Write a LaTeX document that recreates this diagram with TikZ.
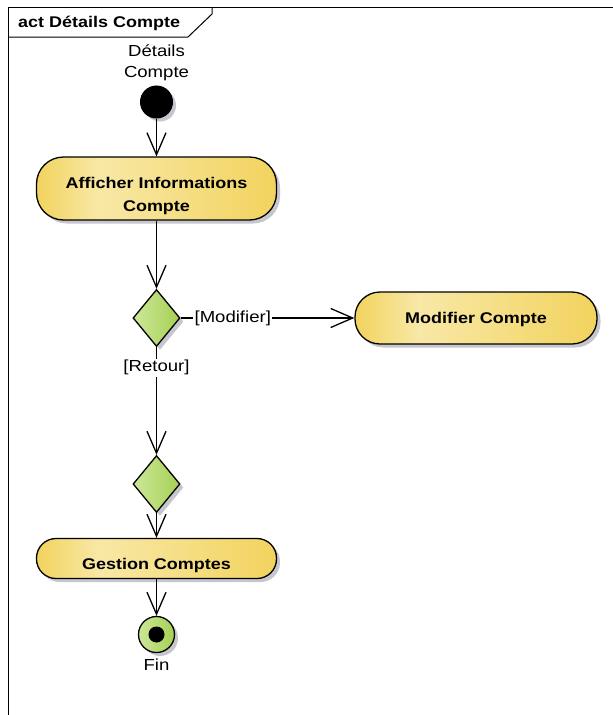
\documentclass[tikz,border=0pt]{standalone}
\usepackage{fontspec}
\setmainfont{Liberation Sans}[FakeStretch=1.16]
\usetikzlibrary{arrows.meta,shapes.geometric,shadows}

\definecolor{actA}{HTML}{F2D35E}
\definecolor{actB}{HTML}{F8E8A6}
\definecolor{decA}{HTML}{A5D053}
\definecolor{decB}{HTML}{CDE79A}
\definecolor{shadowgray}{HTML}{C6C6CE}

% action fill: warm yellow, lighter towards the left third
\pgfdeclarehorizontalshading{actfill}{100bp}{color(0bp)=(actA); color(25bp)=(actA); color(38bp)=(actB); color(75bp)=(actA); color(100bp)=(actA)}

\newcommand\txtfont{\fontsize{16}{21}\selectfont}
\newcommand\actfont{\fontsize{15.5}{22.5}\selectfont\bfseries}
% lowers a line of text inside its box, keeping the box size fixed
\newcommand\lowered[2]{\raisebox{-#1}[11pt][3pt]{#2}}

\tikzset{
  frame/.style={draw=black, line width=1pt},
  umlshadow/.style={drop shadow={shadow xshift=3.5pt, shadow yshift=-3.5pt, fill=shadowgray, draw=none, opacity=1}},
  act/.style={rectangle, draw=black, line width=1.3pt, shading=actfill, umlshadow,
              font=\actfont, align=center, inner sep=2pt},
  decision/.style={diamond, draw=black, line width=1.3pt, left color=decB, right color=decA,
                   umlshadow, minimum width=47pt, minimum height=57pt, inner sep=0pt},
  initial/.style={circle, fill=black, draw=black, line width=1pt, minimum size=32pt,
                  inner sep=0pt, umlshadow},
  final/.style={circle, draw=black, line width=1.3pt, left color=decB, right color=decA,
                minimum size=36pt, inner sep=0pt, umlshadow},
  flow/.style={draw=black, line width=1.3pt,
               -{Straight Barb[length=22pt, width=19pt, line width=1.3pt]}},
  guard/.style={fill=white, inner sep=1.5pt, font=\txtfont},
  plain/.style={font=\txtfont, align=center, inner sep=0pt},
}

\begin{document}
\begin{tikzpicture}[x=1pt, y=-1pt]
\useasboundingbox (0,0) rectangle (613,715);

% diagram frame and its name tab
\draw[frame] (613,7) -- (8,7) -- (8,715);
\draw[frame] (8,37) -- (188,37) -- (212,14) -- (212,7);
\node[anchor=west, font=\actfont, inner sep=0pt] (title) at (18,23) {act Détails Compte};

% nodes
\node[plain] (startlbl) at (156.5,62.5) {Détails\\Compte};
\node[initial] (start) at (156.5,102) {};
\node[act, minimum width=240pt, minimum height=63pt, rounded corners=27pt] (afficher) at (156.5,188.5)
  {\lowered{7.5pt}{Afficher Informations}\\\lowered{7.5pt}{Compte}};
\node[decision] (d1) at (156.5,318) {};
\node[act, minimum width=242pt, minimum height=52pt, rounded corners=25pt] (modifier) at (476,318)
  {\lowered{1pt}{Modifier Compte}};
\node[decision] (d2) at (156.5,484) {};
\node[act, minimum width=240pt, minimum height=40pt, rounded corners=19.5pt] (gestion) at (156.5,558.5)
  {\lowered{6.5pt}{Gestion Comptes}};
\node[final] (fin) at (156.5,634.5) {};
\fill[black] (fin.center) circle (8pt);
\node[plain] (finlbl) at (156.5,665) {Fin};

% control flows
\draw[flow] (start) -- (afficher);
\draw[flow] (afficher) -- (d1);
\draw[flow] (d1) -- node[guard, pos=0.3] {[Modifier]} (modifier);
\draw[flow] (d1) -- node[guard, pos=0.19] {[Retour]} (d2);
\draw[flow] (d2) -- (gestion);
\draw[flow] (gestion) -- (fin);
\end{tikzpicture}
\end{document}
